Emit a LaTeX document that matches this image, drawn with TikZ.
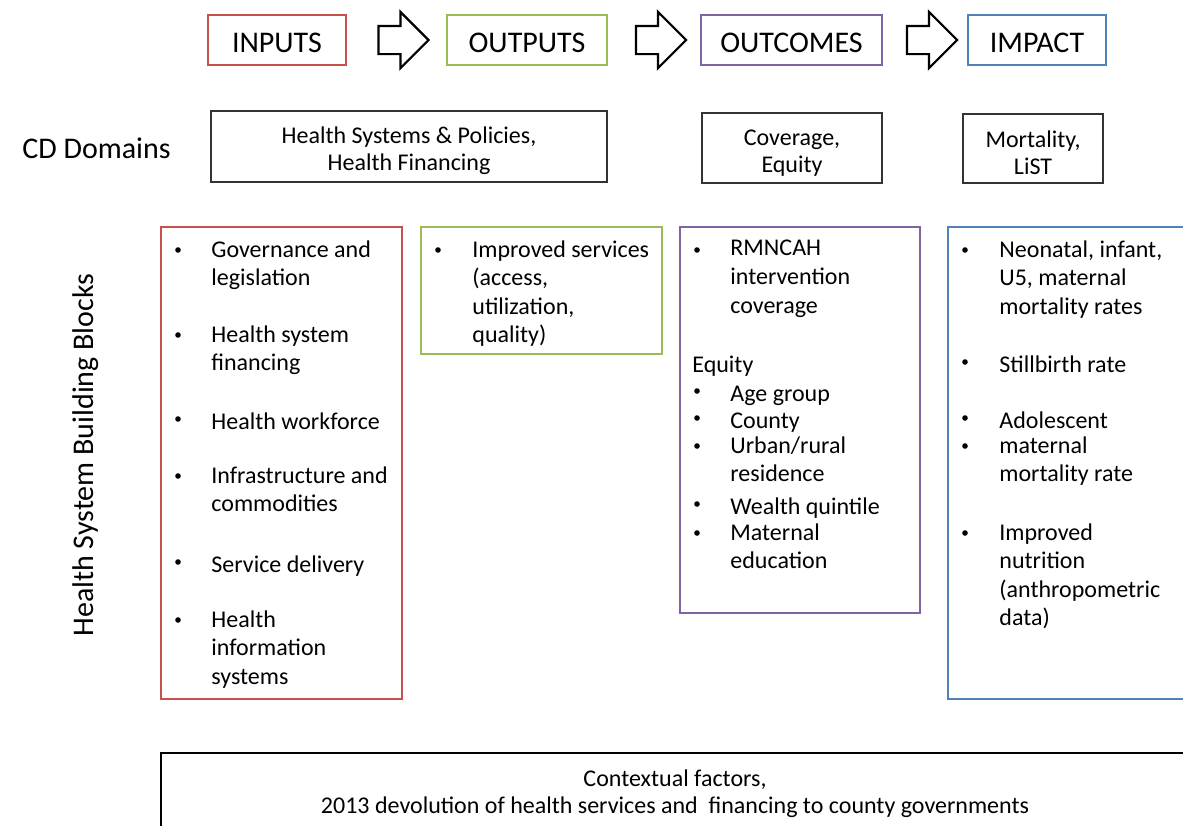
\documentclass[tikz,border=0pt]{standalone}
\usepackage{fontspec}
\setmainfont{Carlito}
\usetikzlibrary{calc,positioning,shapes.arrows}

\definecolor{cred}{RGB}{200,80,77}
\definecolor{cgreen}{RGB}{155,187,89}
\definecolor{cpurple}{RGB}{128,100,162}
\definecolor{cblue}{RGB}{79,129,189}

\newcommand{\toppad}{\rule{0pt}{13pt}}

\tikzset{
  hdr/.style={rectangle,line width=1.2pt,minimum height=25pt,inner sep=0,text height=12.5pt,text depth=0pt,font=\fontsize{15}{18}\selectfont},
  dom/.style={rectangle,draw=black!80,line width=.7pt,inner sep=0,align=center,font=\fontsize{12}{13.5}\selectfont},
  blk/.style={rectangle,line width=1.2pt,inner sep=0},
  blockarrow/.style={single arrow,draw=black,line width=1.1pt,inner xsep=0,inner ysep=6.5pt,minimum width=27pt,minimum height=25pt,single arrow head extend=7pt},
  bul/.style={circle,fill=black,inner sep=0,minimum size=2.8pt},
  itm/.style={anchor=north west,inner sep=0,yshift=9pt,align=left,font=\fontsize{12}{14.3}\selectfont,execute at begin node=\strut},
}

\begin{document}
\begin{tikzpicture}[x=0.5pt,y=-0.5pt]

  \clip (0,0) rectangle (1183,825);

  %% header row
  \foreach \name/\x/\w/\col/\txt in {in/277/69/cred/INPUTS,out/527/80/cgreen/OUTPUTS,oc/791.5/90.5/cpurple/OUTCOMES,im/1037/69/cblue/IMPACT}
           {
             \node (hdr_\name) [hdr,draw=\col,minimum width=\w pt] at (\x,40) {\txt};
           }
  \foreach \a/\b [count=\i] in {in/out,out/oc,oc/im}
           {
             \node (arr_\i) [blockarrow] at ($(hdr_\a.east)!.5!(hdr_\b.west)$) {};
           }

  %% CD domains
  \node (cd) [anchor=west,inner sep=0,font=\fontsize{15}{18}\selectfont] at (22,148) {CD Domains};
  \node (dom_sys) [dom,minimum width=198pt,minimum height=35.5pt] at (409,146.5) {\toppad Health Systems \& Policies,\\Health Financing};
  \node (dom_cov) [dom,minimum width=90pt,minimum height=35pt] at (792,148) {\toppad Coverage,\\Equity};
  \node (dom_mort) [dom,minimum width=70pt,minimum height=34.5pt] at (1033,148.5) {\toppad Mortality,\\LiST};

  %% building blocks
  \node (hsbb) [rotate=90,inner sep=0,font=\fontsize{15}{18}\selectfont] at (86,455) {Health System Building Blocks};

  \node (box_in) [blk,draw=cred,minimum width=120.5pt,minimum height=236pt] at (281.5,463) {};
  \node (box_out) [blk,draw=cgreen,minimum width=120.5pt,minimum height=63.5pt] at (541.5,290.5) {};
  \node (box_oc) [blk,draw=cpurple,minimum width=120pt,minimum height=193pt] at (800,420) {};
  \node (box_im) [blk,draw=cblue,minimum width=120.5pt,minimum height=236pt] at (1068.5,463) {};

  \foreach \y/\t [count=\i] in {258/{Governance and\\legislation},343/{Health system\\financing},427/{Health workforce},484/{Infrastructure and\\commodities},570/{Service delivery},628/{Health\\information\\systems}}
           {
             \node (in_bul_\i) [bul] at (178,\y-8) {};
             \node (in_item_\i) [itm] at (211,\y) {\t};
           }

  \node (out_bul_1) [bul] at (438,250) {};
  \node (out_item_1) [itm] at (472,258) {Improved services\\(access,\\utilization,\\quality)};

  \node (oc_bul_1) [bul] at (697,250) {};
  \node (oc_item_1) [itm] at (730,258) {RMNCAH\\intervention\\coverage};
  \node (oc_equity) [itm] at (692,370) {Equity};
  \foreach \y/\t [count=\i] in {399/{Age group},426/{County},454/{Urban/rural\\residence},512/{Wealth quintile},541/{Maternal\\education}}
           {
             \node (eq_bul_\i) [bul] at (697,\y-8) {};
             \node (eq_item_\i) [itm] at (730,\y) {\t};
           }

  \foreach \y/\t [count=\i] in {258/{Neonatal, infant,\\U5, maternal\\mortality rates},370/{Stillbirth rate},426/{Adolescent},454/{maternal\\mortality rate},541/{Improved\\nutrition\\(anthropometric\\data)}}
           {
             \node (im_bul_\i) [bul] at (965,\y-8) {};
             \node (im_item_\i) [itm] at (999,\y) {\t};
           }

  %% context
  \node (context) [rectangle,draw=black,line width=1pt,minimum width=514pt,minimum height=38.5pt,align=center,font=\fontsize{12}{13.5}\selectfont] at (675,791.5) {\rule{0pt}{11pt}Contextual factors,\\2013 devolution of health services and\ \ financing to county governments};

\end{tikzpicture}
\end{document}
